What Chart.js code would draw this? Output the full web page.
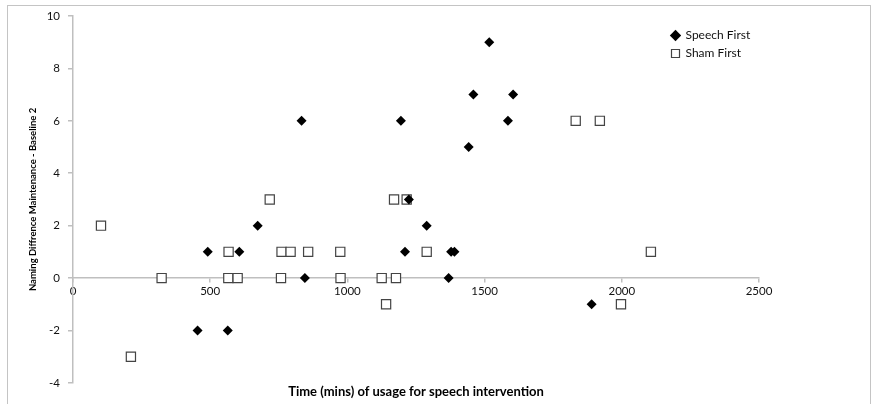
<!DOCTYPE html>
<html>
<head>
<meta charset="utf-8">
<script src="https://cdn.jsdelivr.net/npm/chart.js@4.4.0/dist/chart.umd.min.js"></script>
<style>
  html, body { margin: 0; padding: 0; background: #fff; overflow: hidden; }
  #wrap { position: relative; width: 878px; height: 404px; }
  #frame { position: absolute; left: 7px; top: 5px; width: 862px; height: 430px; border: 1.5px solid #c4c4c4; }
  canvas { position: absolute; left: 0; top: 0; }
</style>
</head>
<body>
<div id="wrap">
  <div id="frame"></div>
  <canvas id="myChart" width="878" height="404"></canvas>
</div>
<script>
// values
const speechTime = [491, 606, 673, 454, 564, 833, 845, 1195, 1210, 1224, 1289, 1369, 1378, 1390, 1442, 1459, 1517, 1585, 1604, 1890];
const speechDiff = [1, 1, 2, -2, -2, 6, 0, 6, 1, 3, 2, 0, 1, 1, 5, 7, 9, 6, 7, -1];

const shamTime = [102, 211, 323, 566, 567, 600, 717, 758, 760, 793, 857, 974, 975, 1125, 1141, 1170, 1177, 1216, 1289, 1832, 1920, 1997, 2106];
const shamDiff = [2, -3, 0, 0, 1, 0, 3, 0, 1, 1, 1, 1, 0, 0, -1, 3, 0, 3, 1, 6, 6, -1, 1];

const xTicks = [0, 500, 1000, 1500, 2000, 2500];
const yTicks = [-4, -2, 0, 2, 4, 6, 8, 10];

const toPoints = (xs, ys) => xs.map((x, i) => ({ x: x, y: ys[i] }));

const axisGray = '#bfbfbf';
const labelColor = '#111';

// put the legend inside the plot, top right, like the original
const moveLegend = {
  id: 'moveLegend',
  afterLayout(chart) {
    const lg = chart.legend;
    const w = lg.width;
    lg.left = 665.5;
    lg.top = 23.5;
    lg.right = lg.left + w + 20;
    lg.bottom = lg.top + 60;
    lg.height = 60;
  }
};

const ctx = document.getElementById('myChart');
const chart = new Chart(ctx, {
  type: 'scatter',
  data: {
    datasets: [
      {
        label: 'Speech First',
        data: toPoints(speechTime, speechDiff),
        pointStyle: 'rectRot',
        pointRadius: 5,
        pointHoverRadius: 5,
        backgroundColor: '#000',
        borderColor: '#000',
        borderWidth: 0
      },
      {
        label: 'Sham First',
        data: toPoints(shamTime, shamDiff),
        pointStyle: 'rect',
        pointRadius: 6.5,
        pointHoverRadius: 6.5,
        backgroundColor: '#fff',
        borderColor: '#444',
        borderWidth: 1.2
      }
    ]
  },
  options: {
    responsive: false,
    animation: false,
    layout: { padding: { left: 0, top: 16, right: 119, bottom: 4.5 } },
    scales: {
      x: {
        type: 'linear',
        position: { y: 0 },
        min: 0,
        max: 2500,
        afterBuildTicks: (s) => { s.ticks = xTicks.map(v => ({ value: v })); },
        afterFit: (s) => { s.height = 0; },
        grid: { drawOnChartArea: false, drawTicks: true, tickLength: 4, color: axisGray, lineWidth: 1.5 },
        border: { display: true, color: axisGray, width: 1.5 },
        ticks: {
          color: labelColor, padding: 2, maxRotation: 0,
          font: { family: 'Lato', size: 11.5 },
          callback: (v) => String(v)
        }
      },
      y: {
        type: 'linear',
        min: -4,
        max: 10,
        afterBuildTicks: (s) => { s.ticks = yTicks.map(v => ({ value: v })); },
        afterFit: (s) => { s.width = 73; },
        grid: { drawOnChartArea: false, drawTicks: true, tickLength: 5, color: axisGray, lineWidth: 1.5 },
        border: { display: true, color: axisGray, width: 1.5 },
        ticks: {
          color: labelColor, padding: 8,
          font: { family: 'Lato', size: 11.5 },
          callback: (v) => String(v)
        },
        title: {
          display: true,
          text: 'Naming Diffrence Maintenance - Baseline 2',
          color: '#000',
          padding: { top: 27, bottom: 0 },
          font: { family: 'Lato', size: 9.5, weight: 'bold' }
        }
      }
    },
    plugins: {
      legend: {
        position: 'chartArea',
        align: 'start',
        labels: {
          usePointStyle: true,
          boxWidth: 8,
          boxHeight: 8,
          padding: 6,
          color: '#111',
          font: { family: 'Lato', size: 12 }
        }
      },
      title: {
        display: true,
        position: 'bottom',
        fullSize: false,
        text: 'Time (mins) of usage for speech intervention',
        color: '#000',
        padding: { top: 1, bottom: 0 },
        font: { family: 'Lato', size: 13, weight: 'bold' }
      },
      tooltip: { enabled: false }
    }
  },
  plugins: [moveLegend]
});
</script>
</body>
</html>
